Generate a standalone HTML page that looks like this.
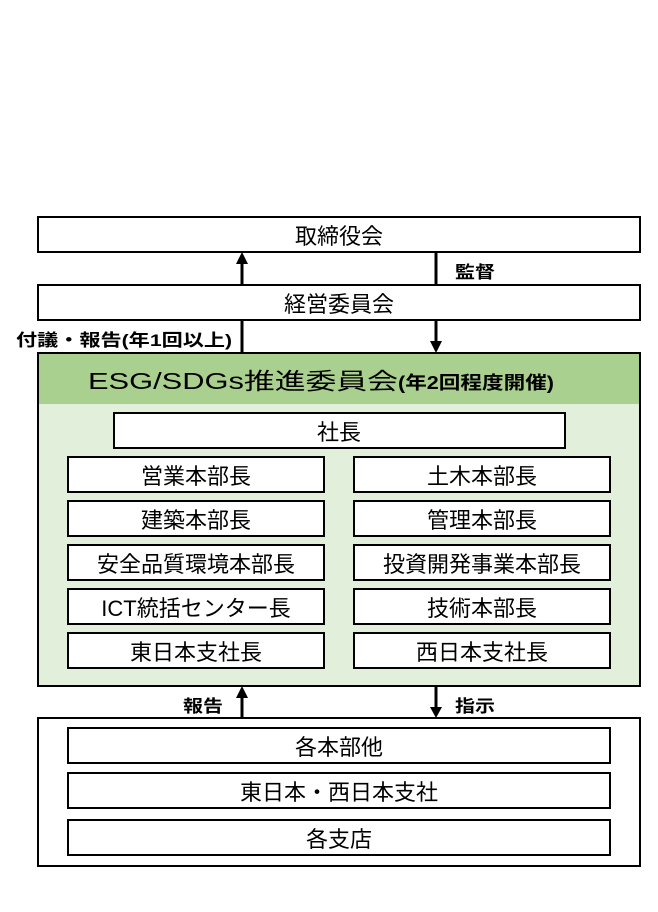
<!DOCTYPE html>
<html><head><meta charset="utf-8"><style>
html,body{margin:0;padding:0;background:#fff;}
svg{display:block;}
text{font-family:"Liberation Sans","Noto Sans CJK JP",sans-serif;fill:#000;}
</style></head><body>
<svg width="658" height="912" viewBox="0 0 658 912" xmlns="http://www.w3.org/2000/svg">
<g stroke="#000" stroke-width="2" fill="#fff">
<rect x="38" y="217" width="602" height="35"/>
<rect x="38" y="285" width="602" height="35"/>
<rect x="38" y="353" width="602" height="333" fill="#e2efda"/>
<rect x="38" y="353" width="602" height="51" fill="#a9d08e" stroke="none"/>
<rect x="38" y="353" width="602" height="333" fill="none"/>
<rect x="114" y="413" width="451" height="35"/>
<rect x="68" y="457" width="256" height="35"/><rect x="354" y="457" width="256" height="35"/>
<rect x="68" y="501" width="256" height="35"/><rect x="354" y="501" width="256" height="35"/>
<rect x="68" y="545" width="256" height="35"/><rect x="354" y="545" width="256" height="35"/>
<rect x="68" y="589" width="256" height="35"/><rect x="354" y="589" width="256" height="35"/>
<rect x="68" y="633" width="256" height="35"/><rect x="354" y="633" width="256" height="35"/>
<rect x="38" y="718" width="602" height="148"/>
<rect x="68" y="728" width="542" height="35"/>
<rect x="68" y="773" width="542" height="35"/>
<rect x="68" y="820" width="542" height="35"/>
</g>
<g stroke="#000" stroke-width="3">
<line x1="242" y1="285" x2="242" y2="262"/>
<line x1="436" y1="253" x2="436" y2="285"/>
<line x1="242" y1="320" x2="242" y2="353"/>
<line x1="436" y1="320" x2="436" y2="342"/>
<line x1="242" y1="718" x2="242" y2="696"/>
<line x1="436" y1="686" x2="436" y2="708"/>
</g>
<g fill="#000">
<path d="M236,264 L248,264 L242,252 z"/>
<path d="M430,341 L442,341 L436,353 z"/>
<path d="M236,698 L248,698 L242,686 z"/>
<path d="M430,707 L442,707 L436,718 z"/>
</g>
<g font-size="22" text-anchor="middle">
<text x="339" y="244">取締役会</text>
<text x="339" y="312">経営委員会</text>
<text x="339" y="440">社長</text>
<text x="196" y="484">営業本部長</text><text x="482" y="484">土木本部長</text>
<text x="196" y="528">建築本部長</text><text x="482" y="528">管理本部長</text>
<text x="196" y="572">安全品質環境本部長</text><text x="482" y="572">投資開発事業本部長</text>
<text x="196" y="616">ICT統括センター長</text><text x="482" y="616">技術本部長</text>
<text x="196" y="660">東日本支社長</text><text x="482" y="660">西日本支社長</text>
<text x="339" y="755">各本部他</text>
<text x="339" y="800">東日本・西日本支社</text>
<text x="339" y="847">各支店</text>
</g>
<text x="88" y="389" font-size="23" textLength="310" lengthAdjust="spacingAndGlyphs">ESG/SDGs推進委員会</text>
<text x="398" y="389" font-size="18" font-weight="bold" textLength="156" lengthAdjust="spacingAndGlyphs">(年2回程度開催)</text>
<g font-size="17" font-weight="bold">
<text x="455" y="278" textLength="40" lengthAdjust="spacingAndGlyphs">監督</text>
<text x="16" y="346" textLength="216" lengthAdjust="spacingAndGlyphs">付議・報告(年1回以上)</text>
<text x="183" y="712" textLength="40" lengthAdjust="spacingAndGlyphs">報告</text>
<text x="455" y="712" textLength="40" lengthAdjust="spacingAndGlyphs">指示</text>
</g>
</svg>
</body></html>
